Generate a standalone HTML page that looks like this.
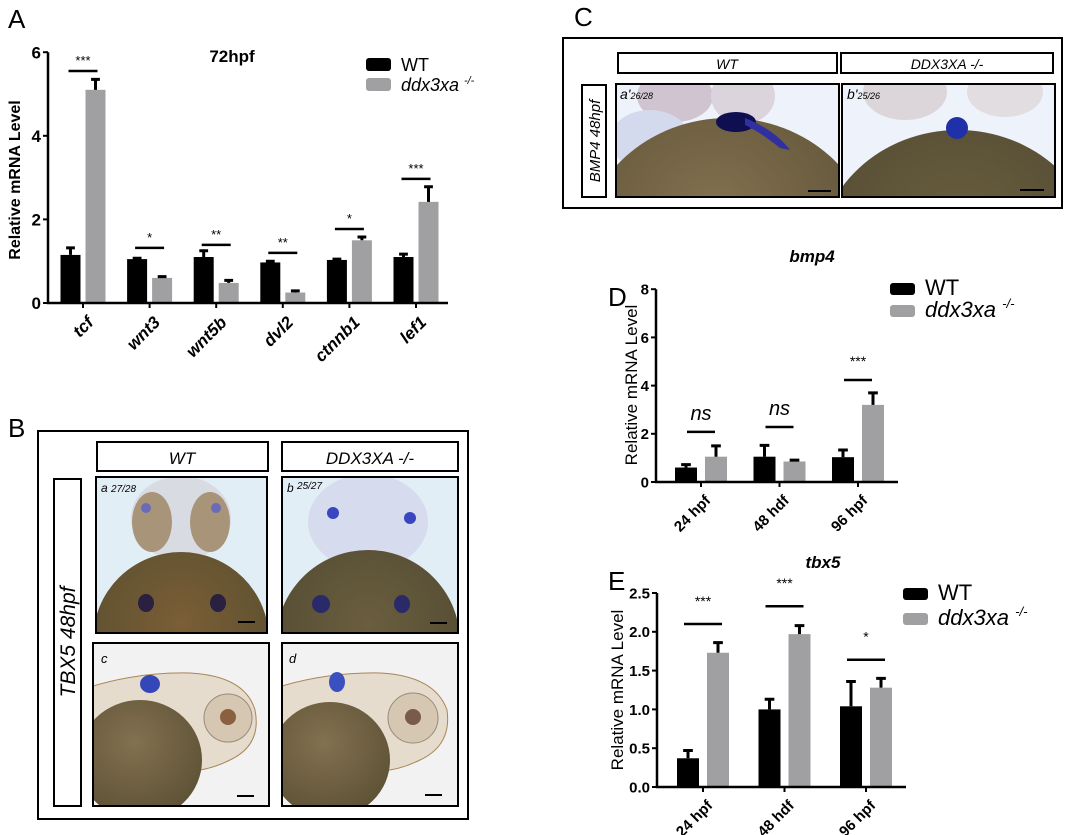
<!DOCTYPE html>
<html><head><meta charset="utf-8"><style>
body{margin:0;background:#fff}
svg{display:block;font-family:"Liberation Sans",Arial,sans-serif}
</style></head><body>
<svg id="fig" width="1065" height="835" viewBox="0 0 1065 835" xmlns="http://www.w3.org/2000/svg">
<defs>
<radialGradient id="yolkA" cx="50%" cy="40%" r="60%"><stop offset="0" stop-color="#7a5e36"/><stop offset="1" stop-color="#5d5030"/></radialGradient>
<radialGradient id="yolkB" cx="50%" cy="40%" r="60%"><stop offset="0" stop-color="#6a5e3e"/><stop offset="1" stop-color="#544c34"/></radialGradient>
<radialGradient id="yolkC" cx="45%" cy="35%" r="65%"><stop offset="0" stop-color="#837150"/><stop offset="1" stop-color="#5e5236"/></radialGradient>
<clipPath id="cA"><rect x="96" y="477" width="171" height="156"/></clipPath>
<clipPath id="cB"><rect x="282" y="477" width="176" height="156"/></clipPath>
<clipPath id="cC"><rect x="93" y="643" width="176" height="163"/></clipPath>
<clipPath id="cD"><rect x="282" y="643" width="176" height="163"/></clipPath>
<clipPath id="cA2"><rect x="616" y="84" width="223" height="113"/></clipPath>
<clipPath id="cB2"><rect x="842" y="84" width="213" height="113"/></clipPath>
</defs>

<text x="8" y="28" font-size="26">A</text>
<text x="8" y="437" font-size="26">B</text>
<text x="574" y="26" font-size="26">C</text>
<text x="608" y="306" font-size="26">D</text>
<text x="608" y="590" font-size="26">E</text>

<g>
<rect x="38" y="431" width="430" height="388" fill="none" stroke="#000" stroke-width="2"/>
<rect x="97" y="442" width="171" height="29" fill="#fff" stroke="#000" stroke-width="2"/>
<text x="182" y="464" font-size="17" font-style="italic" text-anchor="middle">WT</text>
<rect x="282" y="442" width="176" height="29" fill="#fff" stroke="#000" stroke-width="2"/>
<text x="370" y="464" font-size="17" font-style="italic" text-anchor="middle">DDX3XA -/-</text>
<rect x="54" y="479" width="27" height="327" fill="#fff" stroke="#000" stroke-width="2"/>
<text transform="translate(75,642) rotate(-90)" font-size="21" font-style="italic" text-anchor="middle">TBX5 48hpf</text>

<g clip-path="url(#cA)">
<rect x="96" y="477" width="171" height="156" fill="#e2eef6"/>
<ellipse cx="181" cy="518" rx="50" ry="42" fill="#d9dbe3"/>
<ellipse cx="152" cy="522" rx="20" ry="30" fill="#a89478"/>
<ellipse cx="210" cy="522" rx="20" ry="30" fill="#a89478"/>
<circle cx="146" cy="508" r="5" fill="#6a6ab8"/>
<circle cx="216" cy="508" r="5" fill="#6a6ab8"/>
<circle cx="181" cy="640" r="88" fill="url(#yolkA)"/>
<ellipse cx="146" cy="603" rx="8" ry="9" fill="#2a2040"/>
<ellipse cx="218" cy="603" rx="8" ry="9" fill="#2a2040"/>
<rect x="238" y="621" width="17" height="2" fill="#000"/>
</g>
<rect x="96" y="477" width="171" height="156" fill="none" stroke="#000" stroke-width="2"/>
<text x="101" y="492" font-size="12" font-style="italic">a <tspan font-size="10">27/28</tspan></text>

<g clip-path="url(#cB)">
<rect x="282" y="477" width="176" height="156" fill="#e2eef6"/>
<ellipse cx="368" cy="522" rx="60" ry="48" fill="#d6dbee"/>
<ellipse cx="333" cy="513" rx="6" ry="6" fill="#3a46c0"/>
<ellipse cx="410" cy="518" rx="6" ry="6" fill="#3a46c0"/>
<circle cx="368" cy="642" r="92" fill="url(#yolkB)"/>
<ellipse cx="321" cy="604" rx="9" ry="9" fill="#2a2a6a"/>
<ellipse cx="402" cy="604" rx="8" ry="9" fill="#2a2a6a"/>
<rect x="430" y="622" width="17" height="2" fill="#000"/>
</g>
<rect x="282" y="477" width="176" height="156" fill="none" stroke="#000" stroke-width="2"/>
<text x="287" y="492" font-size="12" font-style="italic">b <tspan font-size="10" dy="-3">25/27</tspan></text>

<g clip-path="url(#cC)">
<rect x="93" y="643" width="176" height="163" fill="#f3f2f3"/>
<path d="M93 686 Q140 672 190 673 Q245 676 255 710 Q262 745 230 760 Q200 775 170 770 L93 770 Z" fill="#e6dccd" stroke="#a98656" stroke-width="1"/>
<ellipse cx="140" cy="760" rx="62" ry="60" fill="url(#yolkC)"/>
<ellipse cx="150" cy="684" rx="10" ry="9" fill="#3447b8"/>
<circle cx="228" cy="718" r="24" fill="#d6c7b3" stroke="#9a8a78"/>
<circle cx="228" cy="717" r="8" fill="#8a6040"/>
<rect x="237" y="795" width="17" height="2" fill="#000"/>
</g>
<rect x="93" y="643" width="176" height="163" fill="none" stroke="#000" stroke-width="2"/>
<text x="101" y="663" font-size="13" font-style="italic">c</text>

<g clip-path="url(#cD)">
<rect x="282" y="643" width="176" height="163" fill="#f3f2f3"/>
<path d="M282 686 Q330 672 380 673 Q435 676 447 710 Q452 745 420 760 Q390 775 360 770 L282 770 Z" fill="#e6dccd" stroke="#a98656" stroke-width="1"/>
<ellipse cx="330" cy="760" rx="60" ry="58" fill="url(#yolkC)"/>
<ellipse cx="337" cy="682" rx="8" ry="10" fill="#3a50c0"/>
<circle cx="413" cy="718" r="25" fill="#d6c7b3" stroke="#9a8a78"/>
<circle cx="413" cy="717" r="8" fill="#7a5a48"/>
<rect x="425" y="794" width="17" height="2" fill="#000"/>
</g>
<rect x="282" y="643" width="176" height="163" fill="none" stroke="#000" stroke-width="2"/>
<text x="289" y="663" font-size="13" font-style="italic">d</text>
</g>

<g>
<rect x="563" y="38" width="499" height="170" fill="none" stroke="#000" stroke-width="2"/>
<rect x="618" y="53" width="219" height="20" fill="#fff" stroke="#000" stroke-width="2"/>
<text x="727" y="69" font-size="14" font-style="italic" text-anchor="middle">WT</text>
<rect x="841" y="53" width="212" height="20" fill="#fff" stroke="#000" stroke-width="2"/>
<text x="947" y="69" font-size="14" font-style="italic" text-anchor="middle">DDX3XA -/-</text>
<rect x="582" y="85" width="24" height="112" fill="#fff" stroke="#000" stroke-width="2"/>
<text transform="translate(600,141) rotate(-90)" font-size="15" font-style="italic" text-anchor="middle">BMP4 48hpf</text>

<g clip-path="url(#cA2)">
<rect x="616" y="84" width="223" height="113" fill="#eef2fa"/>
<ellipse cx="675" cy="96" rx="38" ry="26" fill="#cfc4cf"/>
<ellipse cx="743" cy="96" rx="32" ry="28" fill="#dcd4dc"/>
<ellipse cx="650" cy="140" rx="40" ry="30" fill="#d4daee"/>
<ellipse cx="728" cy="250" rx="145" ry="132" fill="url(#yolkC)"/>
<ellipse cx="736" cy="122" rx="20" ry="10" fill="#0e0e50"/>
<path d="M745 118 Q775 130 790 150 L780 148 Q760 132 745 125Z" fill="#3030a0"/>
<rect x="808" y="190" width="23" height="2" fill="#000"/>
</g>
<rect x="616" y="84" width="223" height="113" fill="none" stroke="#000" stroke-width="2"/>
<text x="620" y="99" font-size="14" font-style="italic">a'<tspan font-size="9">26/28</tspan></text>

<g clip-path="url(#cB2)">
<rect x="842" y="84" width="213" height="113" fill="#eef2fa"/>
<ellipse cx="905" cy="92" rx="42" ry="28" fill="#dcd6da"/>
<ellipse cx="1005" cy="92" rx="38" ry="25" fill="#e2dde0"/>
<ellipse cx="958" cy="260" rx="140" ry="130" fill="url(#yolkB)"/>
<circle cx="957" cy="128" r="11" fill="#2030a8"/>
<rect x="1020" y="189" width="24" height="2" fill="#000"/>
</g>
<rect x="842" y="84" width="213" height="113" fill="none" stroke="#000" stroke-width="2"/>
<text x="847" y="99" font-size="14" font-style="italic">b'<tspan font-size="9">25/26</tspan></text>
</g>

<g id="chartA"></g>
<g id="chartD"></g>
<g id="chartE"></g>
</svg>
<script>
// Panel A data
const catsA = ["tcf","wnt3","wnt5b","dvl2","ctnnb1","lef1"];
const wtA = [1.15,1.05,1.1,0.97,1.03,1.1];
const wtErrA = [0.17,0.02,0.15,0.03,0.02,0.07];
const mutA = [5.1,0.6,0.48,0.25,1.5,2.42];
const mutErrA = [0.25,0.03,0.06,0.04,0.08,0.36];
const sigYA = [5.55,1.32,1.39,1.2,1.77,2.97];
const sigA = ["***","*","**","**","*","***"];
const ticksA = [0,2,4,6];
// Panel D data
const catsD = ["24 hpf","48 hdf","96 hpf"];
const wtD = [0.6,1.05,1.03];
const wtErrD = [0.12,0.47,0.3];
const mutD = [1.05,0.85,3.2];
const mutErrD = [0.45,0.06,0.5];
const sigYD = [2.08,2.28,4.23];
const sigD = ["ns","ns","***"];
const ticksD = [0,2,4,6,8];
// Panel E data
const catsE = ["24 hpf","48 hdf","96 hpf"];
const wtE = [0.37,1.0,1.04];
const wtErrE = [0.1,0.13,0.32];
const mutE = [1.73,1.97,1.28];
const mutErrE = [0.13,0.11,0.12];
const sigYE = [2.1,2.33,1.64];
const sigE = ["***","***","*"];
const ticksE = [0,0.5,1.0,1.5,2.0,2.5];

const NS="http://www.w3.org/2000/svg";
function mk(parent,tag,attrs,text){const e=document.createElementNS(NS,tag);for(const k in attrs)e.setAttribute(k,attrs[k]);if(text!==undefined)e.textContent=text;parent.appendChild(e);return e;}

function drawChart(g,o){
  const y=v=>o.y0-v*o.k;
  const tickX=i=>o.t0+i*o.step;
  o.cats.forEach((c,i)=>{
    const tx=tickX(i);
    const xw=tx-o.bw-o.gap/2, xm=tx+o.gap/2;
    const bw=mk(g,'rect',{x:xw,y:y(o.wt[i]),width:o.bw,height:o.wt[i]*o.k,fill:'#000'});
    
    
    const bm=mk(g,'rect',{x:xm,y:y(o.mut[i]),width:o.bw,height:o.mut[i]*o.k,fill:'#a0a0a3'});
    
    
    [[xw,o.wt[i],o.wtErr[i]],[xm,o.mut[i],o.mutErr[i]]].forEach(([bx,v,e])=>{
      const cx=bx+o.bw/2;
      const el=mk(g,'path',{d:`M${cx} ${y(v)}V${y(v+e)}M${cx-o.bw*0.22} ${y(v+e)}H${cx+o.bw*0.22}`,stroke:'#000','stroke-width':3,fill:'none'});
      
      
    });
    const sx1=xw+o.bw/2-o.sigPad, sx2=xm+o.bw/2+o.sigPad;
    const sl=mk(g,'line',{x1:sx1,x2:sx2,y1:y(o.sigY[i]),y2:y(o.sigY[i]),stroke:'#000','stroke-width':2.5});
    
    
    const isNs=o.sig[i]==='ns';
    const st=mk(g,'text',{x:(sx1+sx2)/2,y:y(o.sigY[i])-(isNs?o.nsOff:o.starOff),'font-size':isNs?o.nsSize:o.starSize,'font-style':isNs?'italic':'normal','text-anchor':'middle'},o.sig[i]);
    
    
    mk(g,'line',{x1:tx,x2:tx,y1:o.y0,y2:o.y0+5,stroke:'#000','stroke-width':2});
    const lb=mk(g,'text',{transform:`translate(${tx+3},${o.y0+12}) rotate(-45)`,'font-size':o.xfs,'font-weight':'bold','font-style':o.xItalic?'italic':'normal','text-anchor':'end','dominant-baseline':'hanging'},c);
    
    
  });
  const ax=mk(g,'path',{d:`M${o.x0} ${y(o.ticks[o.ticks.length-1])}V${o.y0}H${o.xEnd}`,stroke:'#000','stroke-width':2.5,fill:'none'});
  
  
  o.ticks.forEach(t=>{
    mk(g,'line',{x1:o.x0-5,x2:o.x0,y1:y(t),y2:y(t),stroke:'#000','stroke-width':2});
    const tl=mk(g,'text',{x:o.x0-7,y:y(t)+o.yfs*0.36,'font-size':o.yfs,'font-weight':'bold','text-anchor':'end'},o.tickFmt(t));
    
    
  });
  const yt=mk(g,'text',{transform:`translate(${o.ytX},${o.ytY}) rotate(-90)`,'font-size':o.ytfs,'font-weight':o.ytBold?'bold':'normal','text-anchor':'middle'},'Relative mRNA Level');
  
  
  const ti=mk(g,'text',{x:o.titleX,y:o.titleY,'font-size':o.titleFs,'font-weight':'bold','font-style':o.titleItalic?'italic':'normal','text-anchor':'middle'},o.title);
  
  
  const lw=mk(g,'rect',{x:o.lgX,y:o.lgY,width:o.lgW,height:o.lgH,rx:3,fill:'#000'});
  
  
  const lm=mk(g,'rect',{x:o.lgX,y:o.lgY+o.lgGap,width:o.lgW,height:o.lgH,rx:3,fill:'#a0a0a3'});
  
  
  const t1=mk(g,'text',{x:o.lgX+o.lgW+10,y:o.lgY+o.lgH,'font-size':o.lgFs},'WT');
  
  
  const t2=mk(g,'text',{x:o.lgX+o.lgW+10,y:o.lgY+o.lgGap+o.lgH,'font-size':o.lgFs,'font-style':'italic'});
  
  
  t2.textContent='ddx3xa ';
  mk(t2,'tspan',{'font-size':o.lgFs*0.6,dy:-o.lgFs*0.4},'-/-');
}

drawChart(document.getElementById('chartA'),{cats:catsA,wt:wtA,wtErr:wtErrA,mut:mutA,mutErr:mutErrA,sigY:sigYA,sig:sigA,ticks:ticksA,
 x0:48,y0:303,k:41.8,xEnd:448,t0:83,step:66.6,bw:20,gap:5,sigPad:2,starOff:6,starSize:13,nsOff:10,nsSize:18,
 xfs:17,xItalic:true,yfs:17,tickFmt:t=>String(t),ytX:20,ytY:180,ytfs:16,ytBold:true,title:'72hpf',titleX:232,titleY:62,titleFs:17,titleItalic:false,
 lgX:366,lgY:58,lgW:25,lgH:13,lgGap:20,lgFs:18});
drawChart(document.getElementById('chartD'),{cats:catsD,wt:wtD,wtErr:wtErrD,mut:mutD,mutErr:mutErrD,sigY:sigYD,sig:sigD,ticks:ticksD,
 x0:656,y0:482,k:24.1,xEnd:898,t0:701,step:78.5,bw:22,gap:8,sigPad:-1,starOff:14,starSize:14,nsOff:12,nsSize:20,
 xfs:15,xItalic:false,yfs:15,tickFmt:t=>String(t),ytX:637,ytY:385,ytfs:17,ytBold:false,title:'bmp4',titleX:812,titleY:262,titleFs:17,titleItalic:true,
 lgX:890,lgY:283,lgW:25,lgH:12,lgGap:22,lgFs:22});
drawChart(document.getElementById('chartE'),{cats:catsE,wt:wtE,wtErr:wtErrE,mut:mutE,mutErr:mutErrE,sigY:sigYE,sig:sigE,ticks:ticksE,
 x0:657,y0:787,k:77.6,xEnd:906,t0:703,step:81.5,bw:22,gap:8,sigPad:4,starOff:18,starSize:14,nsOff:12,nsSize:20,
 xfs:15,xItalic:false,yfs:15,tickFmt:t=>t.toFixed(1),ytX:623,ytY:690,ytfs:17,ytBold:false,title:'tbx5',titleX:823,titleY:568,titleFs:17,titleItalic:true,
 lgX:903,lgY:588,lgW:25,lgH:12,lgGap:25,lgFs:22});
</script>
</body></html>
